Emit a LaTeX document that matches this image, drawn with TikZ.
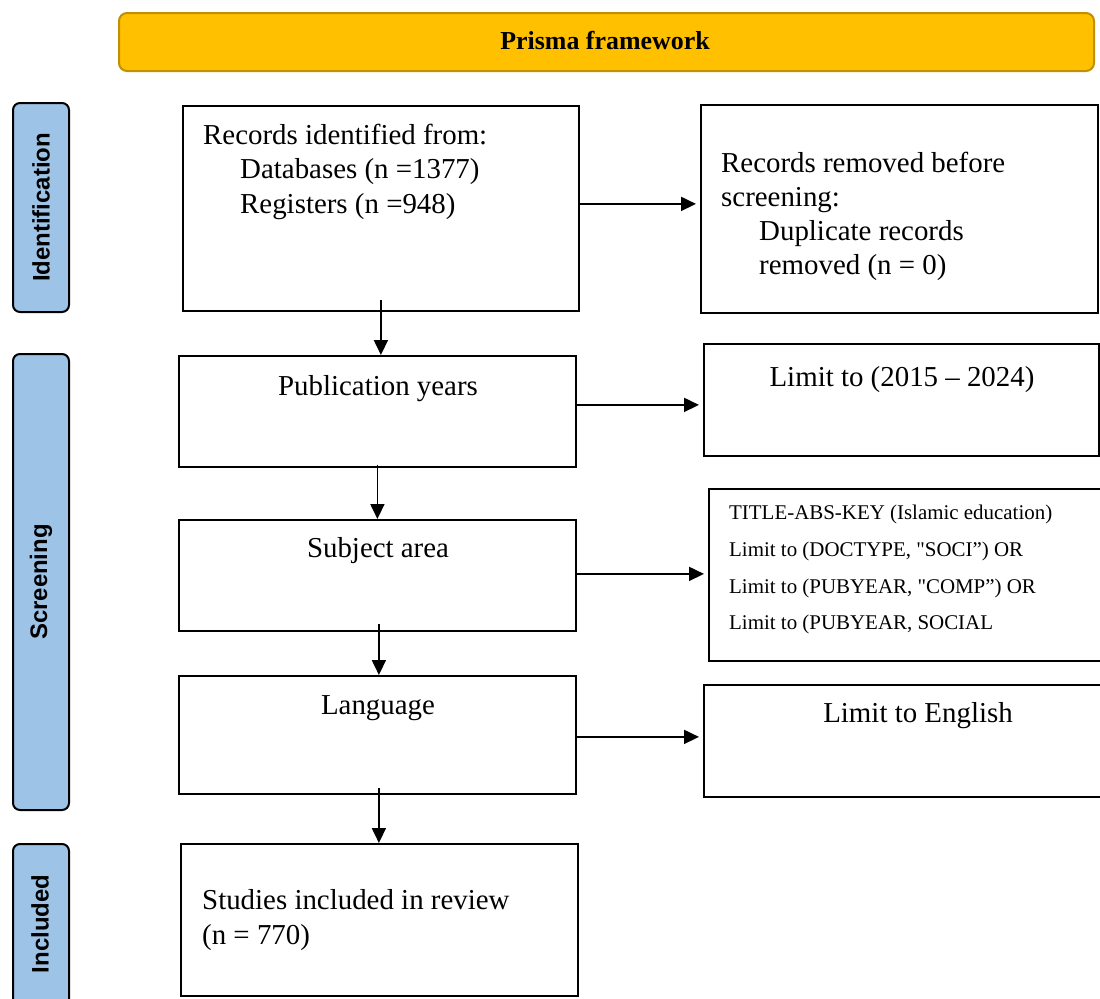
\documentclass[tikz,border=0pt]{standalone}
\usepackage{fontspec}
\setmainfont{Liberation Serif}
\newfontfamily\plainserif{Liberation Serif}[Ligatures=TeXOff]
\newfontfamily\sidefont{Liberation Sans}
\usetikzlibrary{arrows.meta}
\definecolor{bannerfill}{HTML}{FFC000}
\definecolor{bannerdraw}{HTML}{BF9000}
\definecolor{sideblue}{HTML}{9DC3E6}
\begin{document}
\begin{tikzpicture}[x=1bp,y=-1bp,
  box/.style={draw=black,line width=1.8bp,inner sep=0,anchor=north west},
  side/.style={draw=black,line width=2bp,fill=sideblue,rounded corners=7bp,inner sep=0,anchor=north west,minimum width=56bp},
  sidelabel/.style={rotate=90,inner sep=0,font=\sidefont\bfseries\fontsize{24}{28}\selectfont},
  arr/.style={line width=1.8bp,-{Triangle[length=15bp,width=14bp]},shorten >=4bp},
  txt/.style={inner sep=0,anchor=base west,font=\fontsize{29}{35}\selectfont},
  ctxt/.style={inner sep=0,anchor=base,font=\fontsize{29}{35}\selectfont},
  stxt/.style={inner sep=0,anchor=base west,font=\plainserif\fontsize{21}{25}\selectfont}]
\clip (0,0) rectangle (1100,999);
% banner
\node (ban) [draw=bannerdraw,fill=bannerfill,line width=2bp,rounded corners=8bp,inner sep=0,anchor=north west,minimum width=975bp,minimum height=58bp] at (118,12) {};
\node (bantxt) [inner sep=0,anchor=base,font=\bfseries\fontsize{26}{30}\selectfont] at (605,49) {Prisma framework};
% side labels
\node (sid) [side,minimum height=209bp] at (12,102) {};
\node (sidt) [sidelabel] at (sid.center) {Identification};
\node (sscr) [side,minimum height=456bp] at (12,353) {};
\node (sscrt) [sidelabel] at (sscr.center) {Screening};
\node (sinc) [side,minimum height=180bp] at (12,843) {};
\node (sinct) [sidelabel] at (40,924) {Included};
% main boxes
\node (rec) [box,minimum width=396bp,minimum height=205bp] at (182,105) {};
\node (rem) [box,minimum width=397bp,minimum height=208bp] at (700,104) {};
\node (pub) [box,minimum width=397bp,minimum height=111bp] at (178,355) {};
\node (lim) [box,minimum width=395bp,minimum height=112bp] at (703,343) {};
\node (sub) [box,minimum width=397bp,minimum height=111bp] at (178,519) {};
\node (tit) [box,minimum width=410bp,minimum height=172bp] at (708,488) {};
\node (lan) [box,minimum width=397bp,minimum height=118bp] at (178,675) {};
\node (eng) [box,minimum width=410bp,minimum height=112bp] at (703,684) {};
\node (stu) [box,minimum width=397bp,minimum height=152bp] at (180,843) {};
% texts
\node (t1) [txt] at (203,144) {Records identified from:};
\node (t2) [txt] at (240,178) {Databases (n =1377)};
\node (t3) [txt] at (240,213) {Registers (n =948)};
\node (t4) [txt] at (721,172) {Records removed before};
\node (t5) [txt] at (721,206) {screening:};
\node (t6) [txt] at (759,240) {Duplicate records};
\node (t7) [txt] at (759,274) {removed (n = 0)};
\node (t8) [ctxt] at (378,395) {Publication years};
\node (t9) [ctxt] at (902,386) {Limit to (2015 -- 2024)};
\node (t10) [ctxt] at (378,557) {Subject area};
\node (t11) [stxt] at (729,519) {TITLE-ABS-KEY (Islamic education)};
\node (t12) [stxt] at (729,556) {Limit to (DOCTYPE, "SOCI”) OR};
\node (t13) [stxt] at (729,593) {Limit to (PUBYEAR, "COMP”) OR};
\node (t14) [stxt] at (729,629) {Limit to (PUBYEAR, SOCIAL};
\node (t15) [ctxt] at (378,714) {Language};
\node (t16) [ctxt] at (918,722) {Limit to English};
\node (t17) [txt] at (202,909) {Studies included in review};
\node (t18) [txt] at (202,944) {(n = 770)};
% arrows
\draw[arr] ([yshift=4.5bp]rec.east) coordinate (a1) -- (a1 -| rem.west);
\draw[arr] ([yshift=6.5bp]pub.east) coordinate (a2) -- (a2 -| lim.west);
\draw[arr] ([yshift=1.5bp]sub.east) coordinate (a3) -- (a3 -| tit.west);
\draw[arr] ([yshift=-2bp]lan.east) coordinate (a4) -- (a4 -| eng.west);
\draw[arr,shorten >=0pt] ([yshift=12bp]rec.south) coordinate (v1) -- (v1 |- pub.north);
\draw[arr,shorten >=0pt] ([yshift=3bp]pub.south) coordinate (v2) -- (v2 |- sub.north);
\draw[arr,shorten >=0pt] ([yshift=8bp,xshift=1.5bp]sub.south) coordinate (v3) -- (v3 |- lan.north);
\draw[arr,shorten >=0pt] ([yshift=7bp,xshift=1.5bp]lan.south) coordinate (v4) -- (v4 |- stu.north);
\end{tikzpicture}
\end{document}
